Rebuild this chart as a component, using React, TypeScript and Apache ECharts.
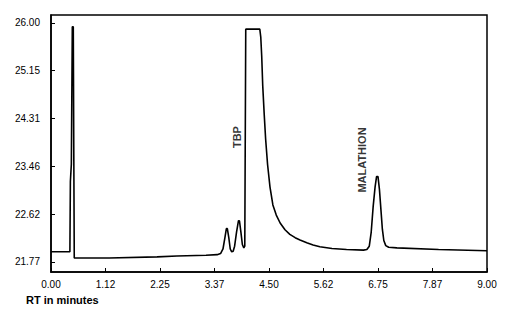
import React, { useEffect, useRef } from "react";
import * as echarts from "echarts";

const traceTimes = [
  0, 0.39, 0.4, 0.42, 0.44, 0.46, 0.47, 0.48, 0.5, 1.2, 2.19, 2.6, 3.2, 3.43, 3.5, 3.55, 3.59, 3.62, 3.64, 3.67,
  3.7, 3.73, 3.76, 3.79, 3.83, 3.87, 3.89, 3.92, 3.95, 3.98, 4.0, 4.02, 4.31, 4.33, 4.35, 4.37, 4.4, 4.43, 4.47,
  4.52, 4.58, 4.65, 4.73, 4.83, 4.93, 5.04, 5.14, 5.28, 5.41, 5.55, 5.8, 6.1, 6.45, 6.52, 6.57, 6.61, 6.65, 6.69,
  6.72, 6.75, 6.78, 6.81, 6.84, 6.87, 6.91, 6.97, 7.14, 8.0, 9.0,
];
const traceValues = [
  21.95, 21.95, 23.2, 23.5, 25.93, 25.93, 23.8, 21.84, 21.84, 21.84, 21.86, 21.875, 21.89, 21.9, 21.92, 22.0, 22.2,
  22.36, 22.36, 22.2, 22.0, 21.95, 21.96, 22.05, 22.3, 22.5, 22.5, 22.3, 22.08, 22.02, 22.05, 25.89, 25.89, 25.75,
  25.4, 24.9, 24.4, 23.95, 23.5, 23.1, 22.78, 22.6, 22.46, 22.34, 22.26, 22.2, 22.16, 22.11, 22.07, 22.04, 22.01,
  21.99, 21.98, 21.99, 22.05, 22.3, 22.75, 23.1, 23.28, 23.28, 23.05, 22.7, 22.35, 22.15, 22.06, 22.03, 22.02, 21.99,
  21.97,
];

const xTickValues = [0, 1.125, 2.25, 3.375, 4.5, 5.625, 6.75, 7.875, 9];
const xTickLabels = ["0.00", "1.12", "2.25", "3.37", "4.50", "5.62", "6.75", "7.87", "9.00"];
const yTickValues = [21.77, 22.616, 23.462, 24.308, 25.154, 26.0];
const yTickLabels = ["21.77", "22.62", "23.46", "24.31", "25.15", "26.00"];

const peakNames = ["TBP", "MALATHION"];
const peakLabelTimes = [3.84, 6.43];
const peakLabelValues = [23.98, 23.575];

const xAxisTitle = "RT in minutes";

export default function App() {
  const ref = useRef<HTMLDivElement>(null);
  useEffect(() => {
    if (!ref.current) return;
    const chart = echarts.init(ref.current, undefined, { renderer: "svg" });
    const font = "'Liberation Sans', Arial, sans-serif";
    chart.setOption({
      animation: false,
      backgroundColor: "#ffffff",
      title: {
        text: xAxisTitle,
        left: 26,
        top: 294,
        padding: 0,
        textStyle: { fontFamily: font, fontSize: 11, fontWeight: "bold", color: "#000" },
      },
      grid: {
        left: 51,
        right: 24,
        top: 15,
        bottom: 40,
        show: true,
        borderColor: "#000",
        borderWidth: 1.5,
        backgroundColor: "transparent",
      },
      xAxis: {
        type: "value",
        min: 0,
        max: 9,
        axisLine: { show: true, lineStyle: { color: "#000", width: 1.5 } },
        axisTick: { show: true, inside: true, length: 4, customValues: xTickValues, lineStyle: { color: "#000" } },
        splitLine: { show: false },
        axisLabel: {
          customValues: xTickValues,
          margin: 7,
          fontFamily: font,
          fontSize: 10,
          color: "#000",
          formatter: (v: number) => {
            const i = xTickValues.findIndex((t) => Math.abs(t - v) < 1e-6);
            return i >= 0 ? xTickLabels[i] : "";
          },
        },
      },
      yAxis: {
        type: "value",
        min: 21.593,
        max: 26.14,
        axisLine: { show: true, lineStyle: { color: "#000", width: 1.5 } },
        axisTick: { show: true, inside: true, length: 4, customValues: yTickValues, lineStyle: { color: "#000" } },
        splitLine: { show: false },
        axisLabel: {
          customValues: yTickValues,
          margin: 11,
          fontFamily: font,
          fontSize: 10,
          color: "#000",
          formatter: (v: number) => {
            const i = yTickValues.findIndex((t) => Math.abs(t - v) < 1e-6);
            return i >= 0 ? yTickLabels[i] : "";
          },
        },
      },
      series: [
        {
          type: "line",
          data: traceTimes.map((t, i) => [t, traceValues[i]]),
          showSymbol: false,
          symbol: "none",
          lineStyle: { color: "#000", width: 1.6 },
          silent: true,
        },
        {
          type: "scatter",
          symbolSize: 0,
          data: peakNames.map((n, i) => ({ name: n, value: [peakLabelTimes[i], peakLabelValues[i]] })),
          label: {
            show: true,
            position: "inside",
            rotate: 90,
            formatter: (p: any) => p.name,
            fontFamily: font,
            fontSize: 11,
            fontWeight: "bold",
            color: "#000",
          },
          silent: true,
        },
      ],
    });
    return () => chart.dispose();
  }, []);
  return <div ref={ref} style={{ width: 511, height: 312, position: "absolute", left: 0, top: 0 }} />;
}
